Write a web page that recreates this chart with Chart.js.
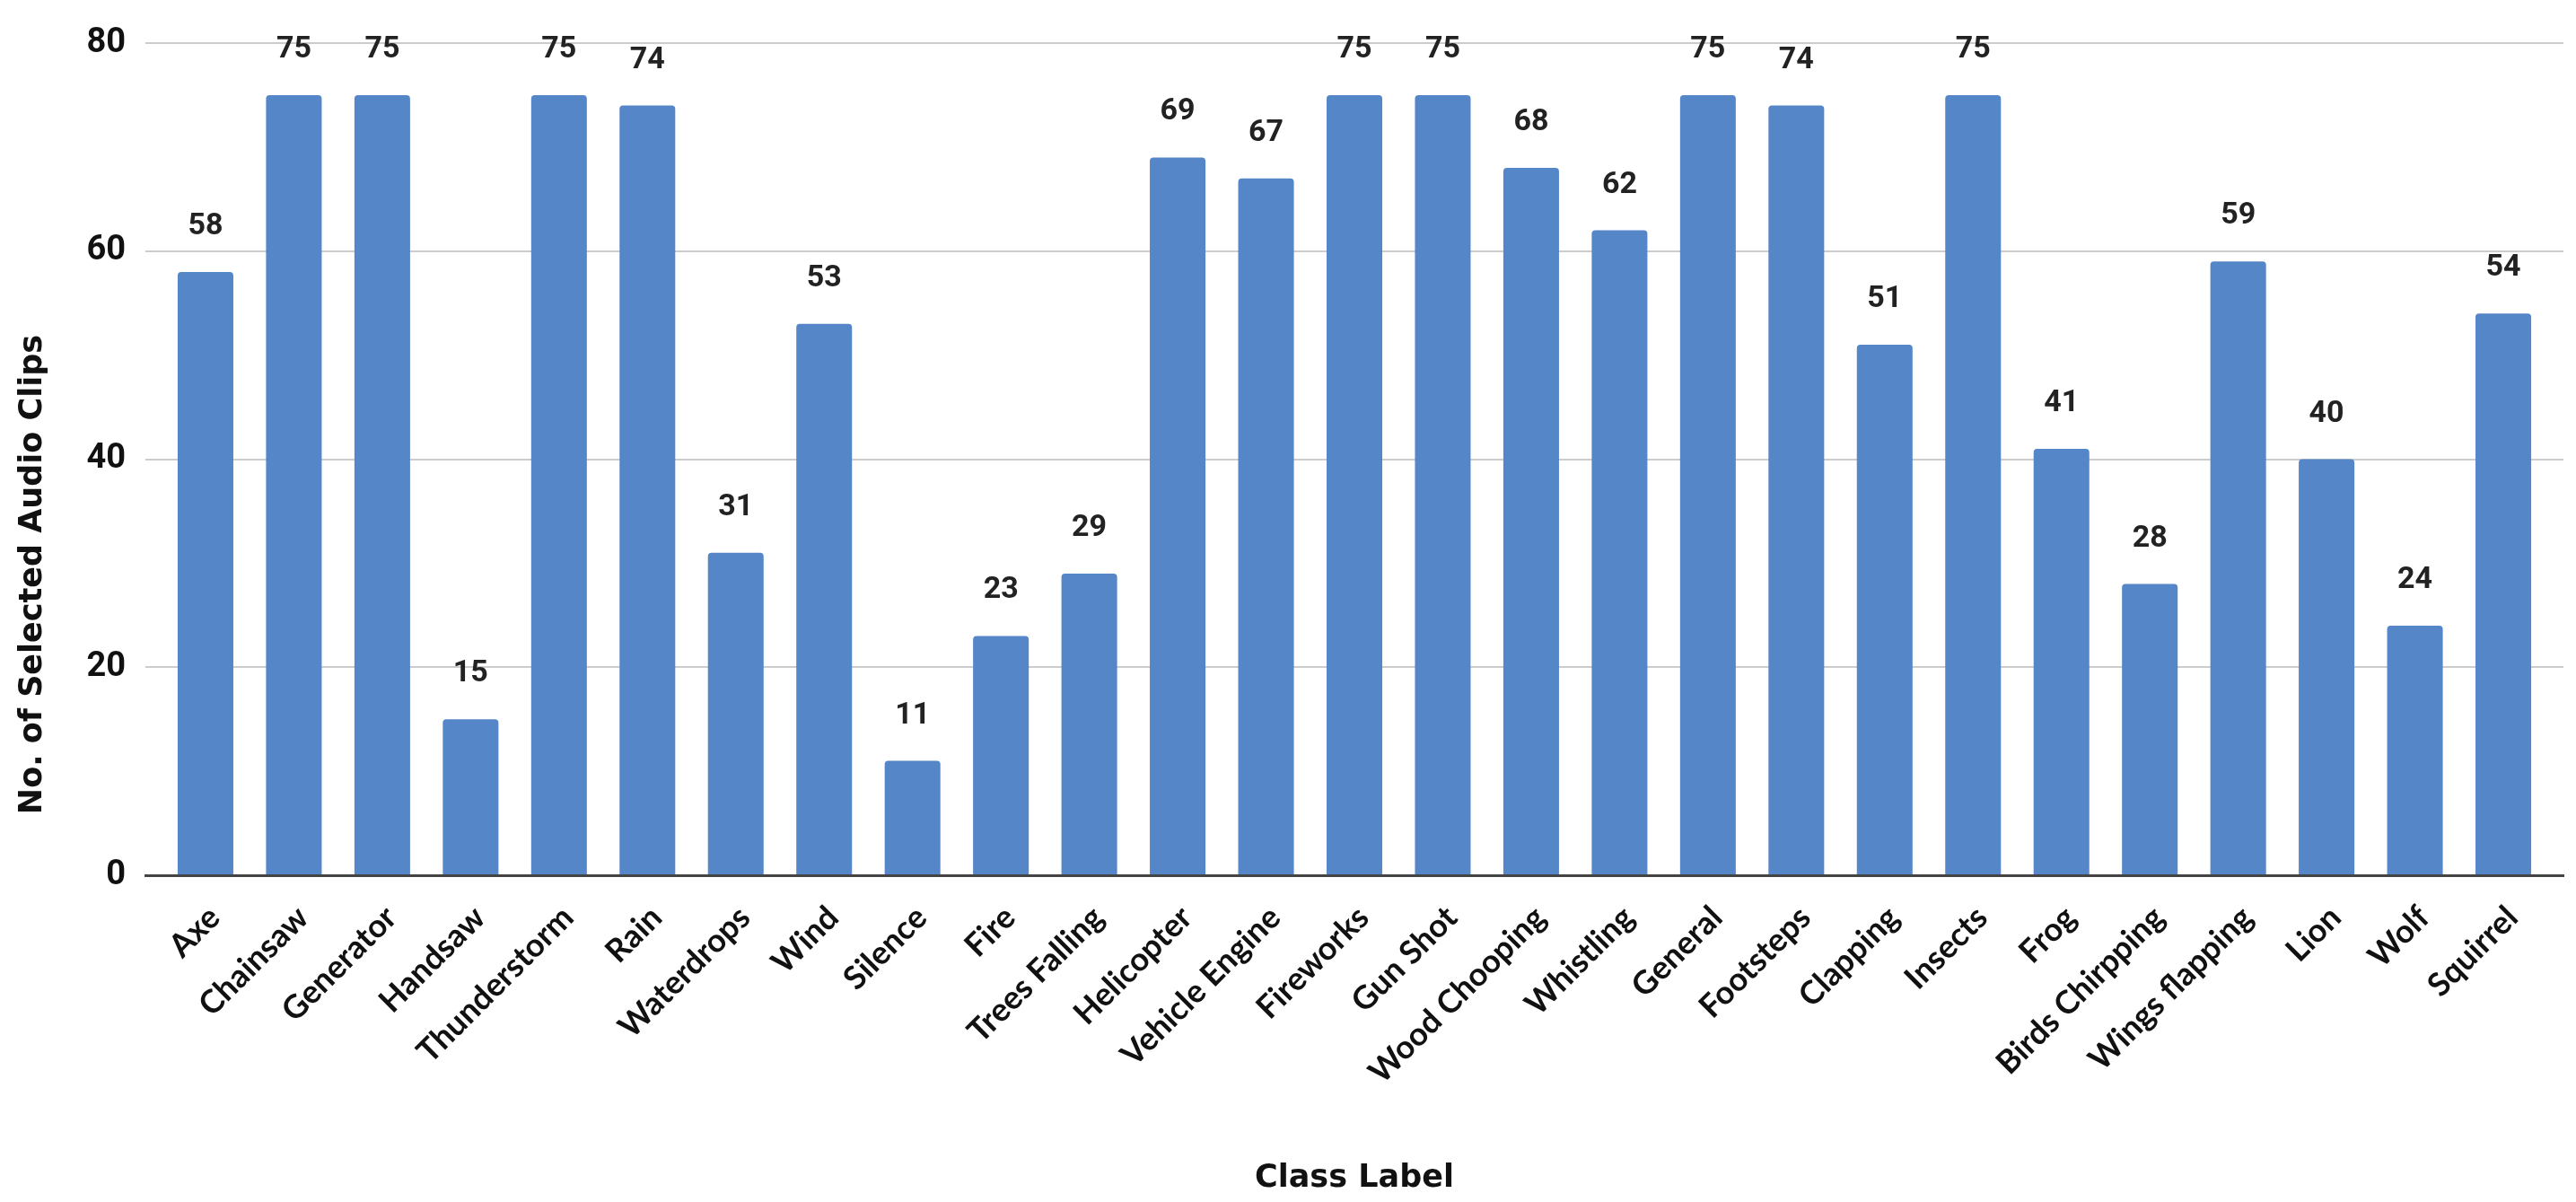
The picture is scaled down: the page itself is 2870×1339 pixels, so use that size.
<!DOCTYPE html>
<html>
<head>
<meta charset="utf-8">
<script src="https://cdn.jsdelivr.net/npm/chart.js@4.4.1/dist/chart.umd.min.js"></script>
<style>
  html, body { margin: 0; padding: 0; background: #fff; }
  #wrap { width: 2870px; height: 1339px; position: relative; }
</style>
</head>
<body>
<div id="wrap"><canvas id="chart"></canvas></div>
<script>
// Class labels along the x axis
const classLabels = [
    'Axe', 'Chainsaw', 'Generator', 'Handsaw', 'Thunderstorm', 'Rain', 'Waterdrops',
    'Wind', 'Silence', 'Fire', 'Trees Falling', 'Helicopter', 'Vehicle Engine',
    'Fireworks', 'Gun Shot', 'Wood Chooping', 'Whistling', 'General', 'Footsteps',
    'Clapping', 'Insects', 'Frog', 'Birds Chirpping', 'Wings flapping', 'Lion',
    'Wolf', 'Squirrel'
];

// Number of selected clips per class
const clipCounts = [
    58, 75, 75, 15, 75, 74, 31,
    53, 11, 23, 29, 69, 67,
    75, 75, 68, 62, 75, 74,
    51, 75, 41, 28, 59, 40,
    24, 54
];

// y axis ticks
const yTicks = [0, 20, 40, 60, 80];

const xTitle = 'Class Label';
const yTitle = 'No. of Selected Audio Clips';

const BAR_COLOR = '#5586c8';
const TEXT_COLOR = '#111';

// Value labels above each bar
const valueLabels = {
    id: 'valueLabels',
    afterDatasetsDraw(chart) {
        const {ctx} = chart;
        const meta = chart.getDatasetMeta(0);
        ctx.save();
        ctx.font = 'bold 34px Roboto';
        ctx.fillStyle = '#222';
        ctx.textAlign = 'center';
        ctx.textBaseline = 'alphabetic';
        meta.data.forEach((bar, i) => {
            ctx.fillText(String(clipCounts[i]), bar.x, bar.y - 42);
        });
        ctx.restore();
    }
};

// The y title sits lower than the plot centre in the original, so draw it here
const yAxisTitle = {
    id: 'yAxisTitle',
    afterDraw(chart) {
        const {ctx} = chart;
        ctx.save();
        ctx.translate(37, 640);
        ctx.rotate(-Math.PI / 2);
        ctx.font = 'bold 35px "DejaVu Sans"';
        ctx.fillStyle = TEXT_COLOR;
        ctx.textAlign = 'center';
        ctx.textBaseline = 'middle';
        ctx.fillText(yTitle, 0, 0);
        ctx.restore();
    }
};

new Chart(document.getElementById('chart'), {
    type: 'bar',
    data: {
        labels: classLabels,
        datasets: [{
            data: clipCounts,
            backgroundColor: BAR_COLOR,
            borderRadius: {topLeft: 4, topRight: 4, bottomLeft: 0, bottomRight: 0},
            borderSkipped: 'bottom',
            barPercentage: 0.63,
            categoryPercentage: 1
        }]
    },
    options: {
        responsive: true,
        maintainAspectRatio: false,
        animation: false,
        layout: {
            padding: {top: 48, right: 14, bottom: 0, left: 0}
        },
        plugins: {
            legend: {display: false},
            tooltip: {enabled: false}
        },
        scales: {
            x: {
                offset: true,
                // full gap before the first and after the last bar, like the original
                afterBuildTicks: (scale) => {
                    scale._startValue -= 0.18;
                    scale._valueRange += 0.36;
                },
                afterFit: (scale) => { scale.height = 364; },
                grid: {display: false, drawTicks: false},
                border: {display: true, color: '#444', width: 3},
                ticks: {
                    autoSkip: false,
                    maxRotation: 45,
                    minRotation: 45,
                    padding: 26,
                    labelOffset: 10,
                    color: TEXT_COLOR,
                    font: {family: 'Lato', weight: 'bold', size: 36}
                },
                title: {
                    display: true,
                    text: xTitle,
                    color: TEXT_COLOR,
                    font: {family: 'DejaVu Sans', weight: 'bold', size: 35},
                    padding: {top: 0, bottom: 5}
                }
            },
            y: {
                min: 0,
                max: 80,
                afterFit: (scale) => { scale.width = 162; },
                afterBuildTicks: (scale) => {
                    scale.ticks = yTicks.map(v => ({value: v}));
                },
                grid: {color: '#cccccc', lineWidth: 2, drawTicks: false},
                border: {display: false},
                ticks: {
                    padding: 22,
                    color: TEXT_COLOR,
                    font: {family: '"Liberation Sans Narrow", Roboto', weight: 'bold', size: 38}
                }
            }
        }
    },
    plugins: [valueLabels, yAxisTitle]
});
</script>
</body>
</html>
